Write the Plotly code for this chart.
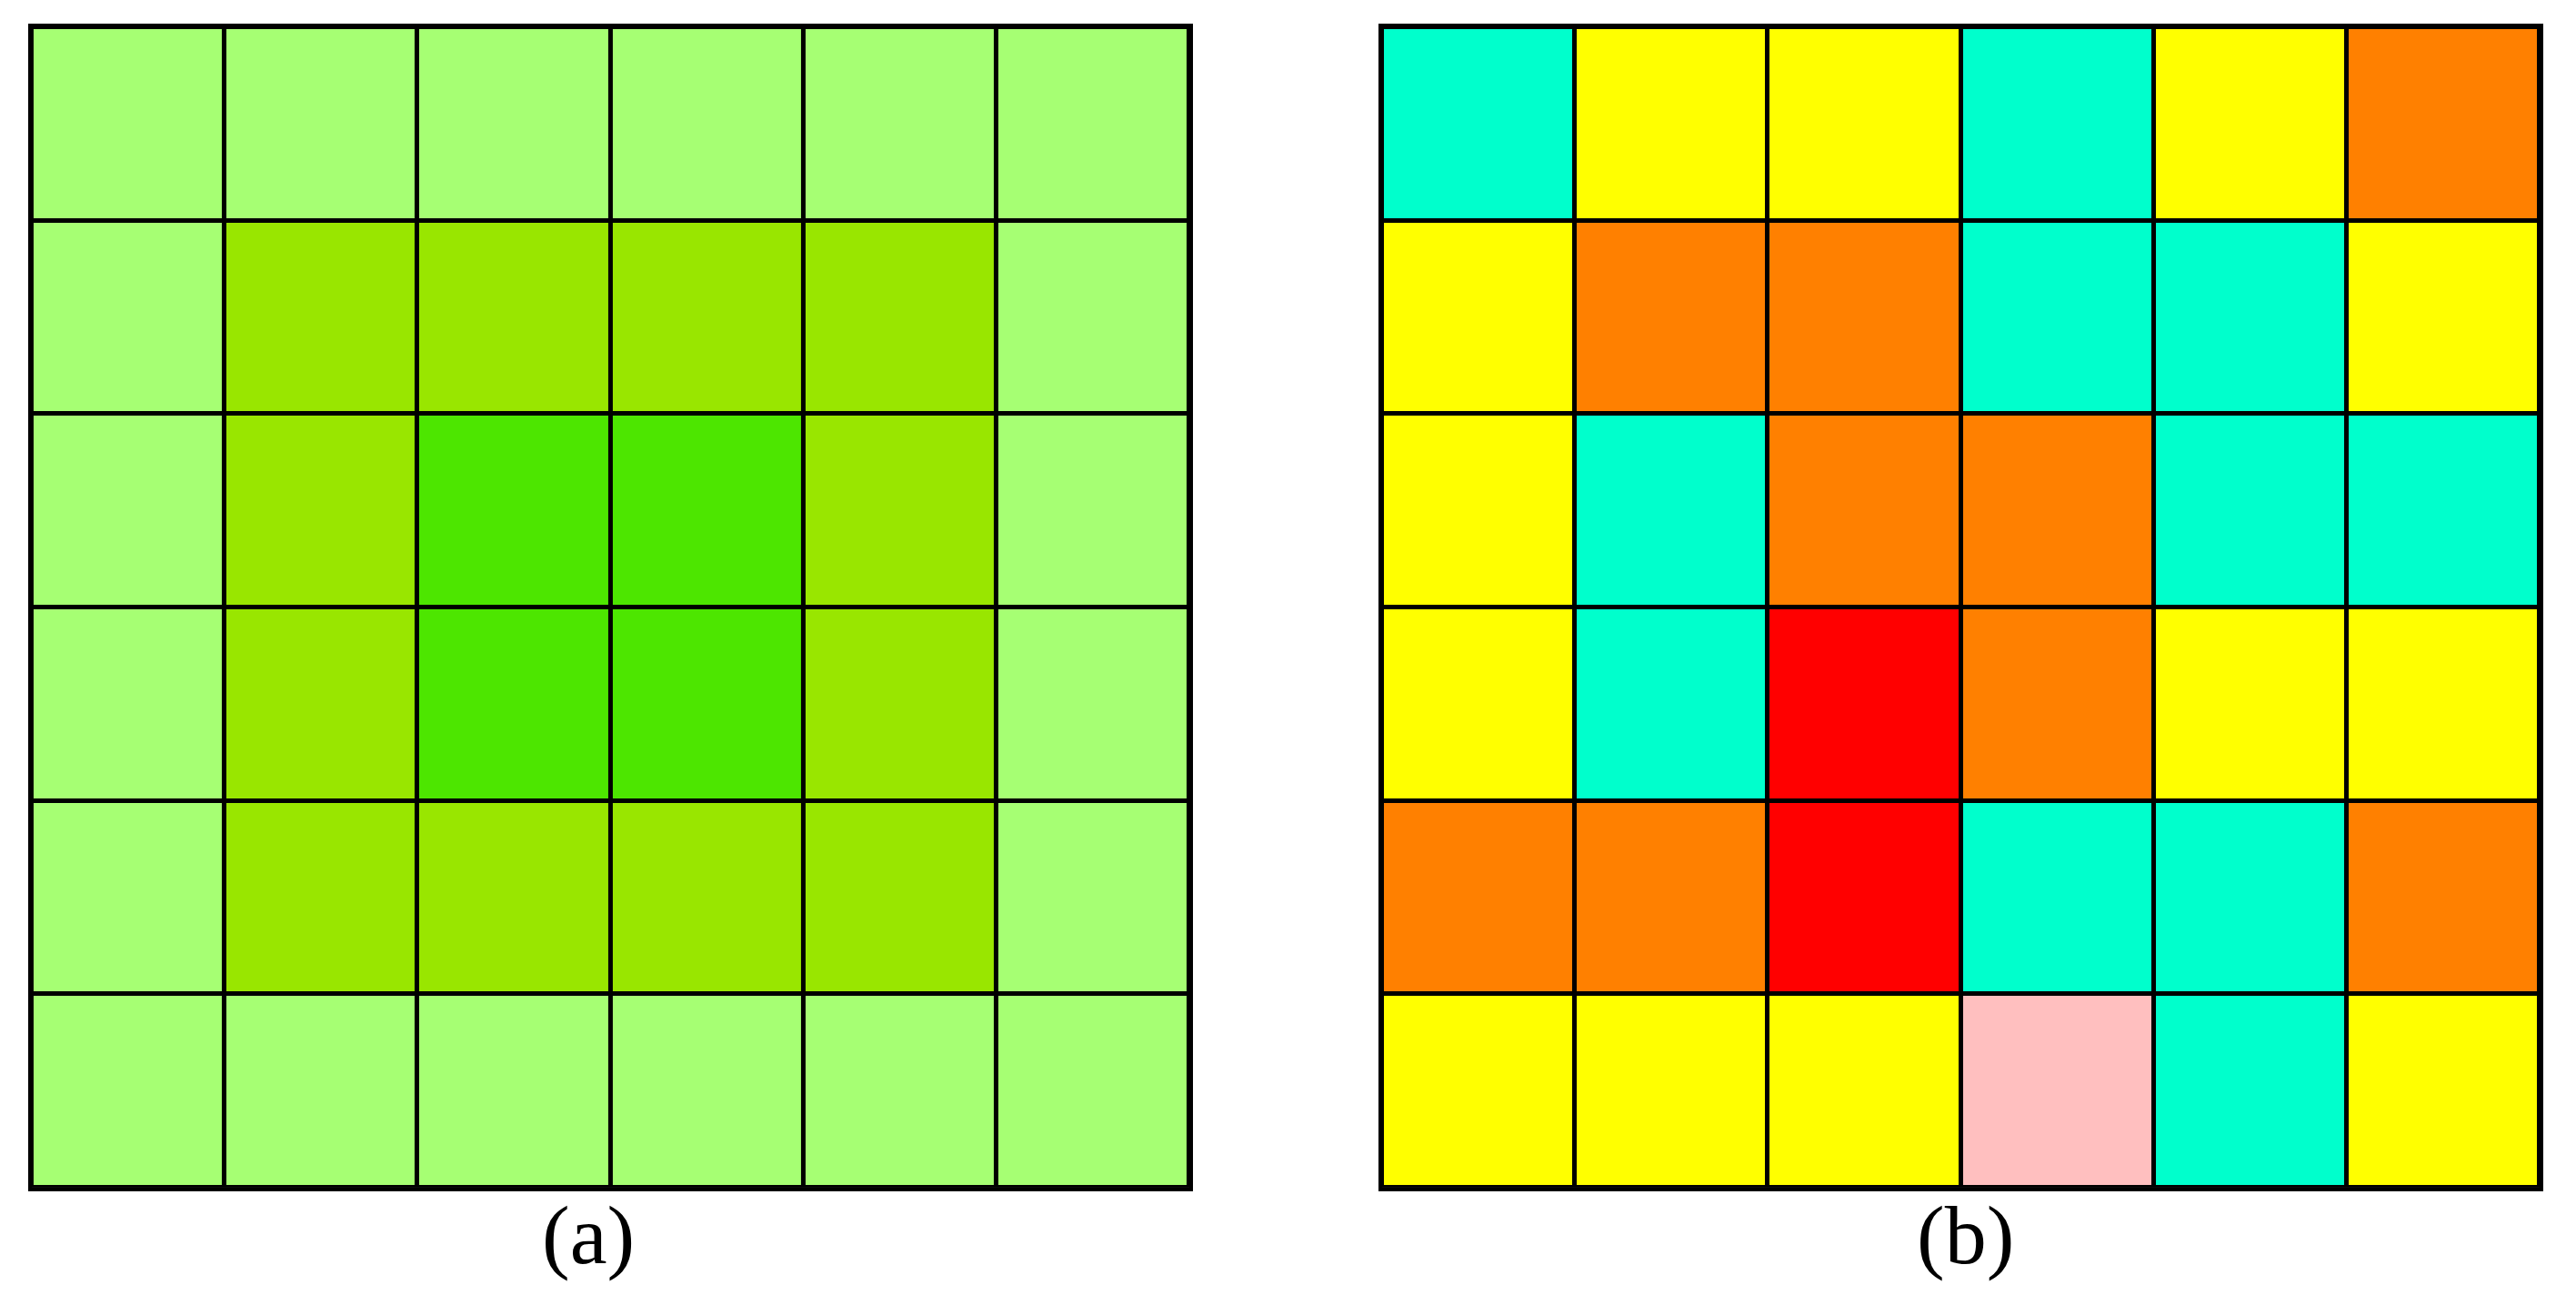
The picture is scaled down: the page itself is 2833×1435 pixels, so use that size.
import plotly.graph_objects as go

# panel (a): 0 = light green, 1 = mid green, 2 = dark green (rows top to bottom)
grid_a = [
    [0, 0, 0, 0, 0, 0],
    [0, 1, 1, 1, 1, 0],
    [0, 1, 2, 2, 1, 0],
    [0, 1, 2, 2, 1, 0],
    [0, 1, 1, 1, 1, 0],
    [0, 0, 0, 0, 0, 0],
]
colors_a = ["#A6FF73", "#99E600", "#4DE600"]

# panel (b): 0 = cyan, 1 = yellow, 2 = orange, 3 = red, 4 = pink
grid_b = [
    [0, 1, 1, 0, 1, 2],
    [1, 2, 2, 0, 0, 1],
    [1, 0, 2, 2, 0, 0],
    [1, 0, 3, 2, 1, 1],
    [2, 2, 3, 0, 0, 2],
    [1, 1, 1, 4, 0, 1],
]
colors_b = ["#00FFCC", "#FFFF00", "#FF8000", "#FF0000", "#FFBFBF"]

labels = ["(a)", "(b)"]


def discrete_scale(colors):
    n = len(colors)
    scale = []
    for i, c in enumerate(colors):
        scale.append([i / n, c])
        scale.append([(i + 1) / n, c])
    return scale


fig = go.Figure()
for k, (grid, colors) in enumerate([(grid_a, colors_a), (grid_b, colors_b)]):
    suffix = "" if k == 0 else "2"
    fig.add_trace(go.Heatmap(
        z=grid,
        colorscale=discrete_scale(colors),
        zmin=-0.5, zmax=len(colors) - 0.5,
        showscale=False,
        xgap=5, ygap=5,
        hoverinfo="skip",
        xaxis="x" + suffix, yaxis="y" + suffix,
    ))

axis_style = dict(showgrid=False, zeroline=False, showticklabels=False, ticks="",
                  showline=True, linecolor="black", linewidth=4, mirror=True)

# page body has an 8px margin, so domains are shifted accordingly
fig.update_layout(
    width=2833, height=1435, autosize=False,
    margin=dict(l=0, r=0, t=0, b=0),
    paper_bgcolor="white", plot_bgcolor="black",
    xaxis=dict(domain=[0.0095, 0.4589], range=[-0.5, 5.5], **axis_style),
    yaxis=dict(domain=[0.0955, 0.9847], range=[5.5, -0.5], **axis_style),
    xaxis2=dict(domain=[0.5337, 0.9831], range=[-0.5, 5.5], **axis_style),
    yaxis2=dict(domain=[0.0955, 0.9847], range=[5.5, -0.5], anchor="x2", **axis_style),
)

label_x = [0.481, 0.504]
for i, text in enumerate(labels):
    xref = "x domain" if i == 0 else "x2 domain"
    fig.add_annotation(text=text, xref=xref, yref="paper", x=label_x[i], y=0.059,
                       showarrow=False, yanchor="middle",
                       font=dict(family="Liberation Serif", size=92, color="black"))

fig.write_html("out.html")
